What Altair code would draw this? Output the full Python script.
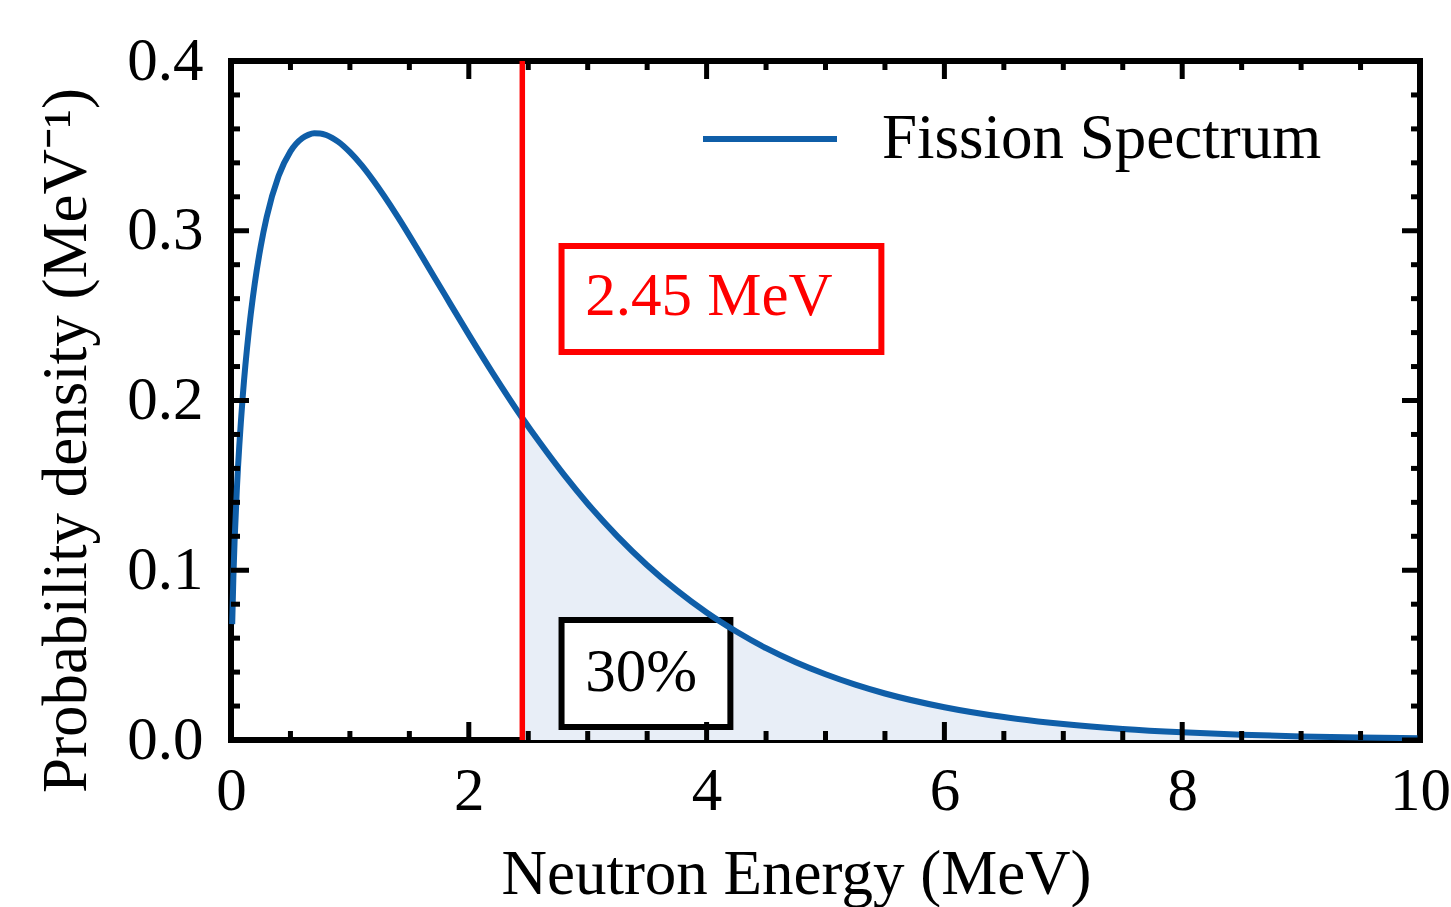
import altair as alt
import pandas as pd

# Fission spectrum values
energy = [0.01, 0.02, 0.03, 0.05, 0.1, 0.15, 0.2, 0.25, 0.3, 0.4, 0.5, 0.6, 0.65, 0.7, 0.75,
          0.8, 0.85, 0.9, 1.0, 1.1, 1.2, 1.4, 1.6, 1.8, 2.0, 2.2, 2.45, 2.6, 2.8, 3.0, 3.25,
          3.5, 3.75, 4.0, 4.25, 4.5, 4.75, 5.0, 5.25, 5.5, 6.0, 6.5, 7.0, 7.5, 8.0, 8.5,
          9.0, 9.5, 10.0]
density = [0.0683, 0.0960, 0.1168, 0.1488, 0.2035, 0.2410, 0.2690, 0.2908, 0.3080, 0.3322,
           0.3468, 0.3546, 0.3565, 0.3574, 0.3573, 0.3564, 0.3547, 0.3525, 0.3463, 0.3385,
           0.3293, 0.3085, 0.2856, 0.2621, 0.2388, 0.2163, 0.1897, 0.1749, 0.1563, 0.1392,
           0.1200, 0.1030, 0.0881, 0.0751, 0.0639, 0.0541, 0.0458, 0.0387, 0.0326, 0.0274,
           0.0193, 0.0135, 0.0094, 0.0065, 0.0045, 0.0031, 0.0021, 0.0014, 0.0010]
series_name = ["Fission Spectrum"]

marker_energy = [2.45]
marker_label = ["2.45 MeV"]
fraction_label = ["30%"]

x_major = [0, 2, 4, 6, 8, 10]
x_minor = [0.5, 1, 1.5, 2.5, 3, 3.5, 4.5, 5, 5.5, 6.5, 7, 7.5, 8.5, 9, 9.5]
y_major = [0.0, 0.1, 0.2, 0.3, 0.4]
y_minor = [0.02, 0.04, 0.06, 0.08, 0.12, 0.14, 0.16, 0.18, 0.22, 0.24, 0.26, 0.28,
           0.32, 0.34, 0.36, 0.38]

FONT = "Liberation Serif"
W, H = 1189, 679
BLUE = "#0f5ea8"

df = pd.DataFrame({"E": energy, "f": density, "series": series_name * len(energy)})
df_tail = df[df["E"] >= marker_energy[0]]

xs = alt.Scale(domain=[0, 10], nice=False, zero=False)
ys = alt.Scale(domain=[0, 0.4], nice=False, zero=False)

xaxis = alt.Axis(values=x_major, format="d", ticks=False, domain=False, grid=False,
                 labelFontSize=61, labelFont=FONT, labelColor="black", labelPadding=21,
                 labelFlush=False,
                 title="Neutron Energy (MeV)", titleFont=FONT, titleFontSize=63,
                 titleFontWeight="normal", titleColor="black", titleX=565, titleY=153,
                 titleBaseline="alphabetic", titleAnchor="middle")
yaxis = alt.Axis(values=y_major, format=".1f", ticks=False, domain=False, grid=False,
                 labelFontSize=61, labelFont=FONT, labelColor="black", labelPadding=28,
                 labelFlush=False,
                 title="Probability density (MeV⁻¹)", titleFont=FONT, titleFontSize=63,
                 titleFontWeight="normal", titleColor="black", titleX=-146, titleY=379,
                 titleBaseline="alphabetic", titleAngle=270, titleAlign="center")

area = alt.Chart(df_tail).mark_area(color="#e8eef7", opacity=1, interpolate="monotone").encode(
    x=alt.X("E:Q", scale=xs, axis=xaxis),
    y=alt.Y("f:Q", scale=ys, axis=yaxis),
)

line = alt.Chart(df).mark_line(strokeWidth=6, interpolate="monotone").encode(
    x=alt.X("E:Q", scale=xs),
    y=alt.Y("f:Q", scale=ys),
    color=alt.Color("series:N",
                    scale=alt.Scale(domain=series_name, range=[BLUE]),
                    legend=alt.Legend(title=None, orient="none", legendX=469, legendY=8,
                                      symbolType="stroke", symbolSize=17956,
                                      symbolStrokeWidth=6, labelFontSize=63, labelFont=FONT,
                                      labelColor="black", labelOffset=42, padding=0,
                                      labelLimit=0)),
)

vline = alt.Chart(pd.DataFrame({"E": marker_energy})).mark_rule(color="#ff0000", strokeWidth=5.5).encode(
    x=alt.X("E:Q", scale=xs), y=alt.value(0), y2=alt.value(H)
)

box_df = pd.DataFrame({
    "x1": [2.78, 2.78], "x2": [5.47, 4.20],
    "y1": [0.291, 0.0707], "y2": [0.2286, 0.0077],
    "c": ["#ff0000", "black"],
})
boxes = alt.Chart(box_df).mark_rect(fill="white", strokeWidth=6).encode(
    x=alt.X("x1:Q", scale=xs), x2="x2:Q",
    y=alt.Y("y1:Q", scale=ys), y2="y2:Q",
    stroke=alt.Stroke("c:N", scale=None),
)

text_df = pd.DataFrame({
    "x": [4.02, 3.45], "y": [0.2504, 0.0289],
    "t": marker_label + fraction_label, "c": ["#ff0000", "black"],
})
texts = alt.Chart(text_df).mark_text(font=FONT, fontSize=61, baseline="alphabetic",
                                     align="center").encode(
    x=alt.X("x:Q", scale=xs), y=alt.Y("y:Q", scale=ys), text="t:N",
    color=alt.Color("c:N", scale=None),
)

def xticks(vals, length, width):
    d = pd.DataFrame({"v": vals})
    bottom = alt.Chart(d).mark_rule(color="black", strokeWidth=width).encode(
        x=alt.X("v:Q", scale=xs), y=alt.value(H), y2=alt.value(H - length))
    top = alt.Chart(d).mark_rule(color="black", strokeWidth=width).encode(
        x=alt.X("v:Q", scale=xs), y=alt.value(0), y2=alt.value(length))
    return [bottom, top]

def yticks(vals, length, width):
    d = pd.DataFrame({"v": vals})
    left = alt.Chart(d).mark_rule(color="black", strokeWidth=width).encode(
        y=alt.Y("v:Q", scale=ys), x=alt.value(0), x2=alt.value(length))
    right = alt.Chart(d).mark_rule(color="black", strokeWidth=width).encode(
        y=alt.Y("v:Q", scale=ys), x=alt.value(W), x2=alt.value(W - length))
    return [left, right]

ticks = xticks(x_major, 18, 5) + xticks(x_minor, 9, 5) + yticks(y_major, 18, 5) + yticks(y_minor, 9, 5)

chart = alt.layer(area, boxes, texts, line, vline, *ticks).properties(
    width=W, height=H,
    padding={"left": 231, "top": 61, "right": 31, "bottom": 167},
    autosize=alt.AutoSizeParams(type="none"),
    background="white",
).configure_view(stroke="black", strokeWidth=6)

chart.save("out.html", embed_options={"renderer": "svg", "actions": False})
